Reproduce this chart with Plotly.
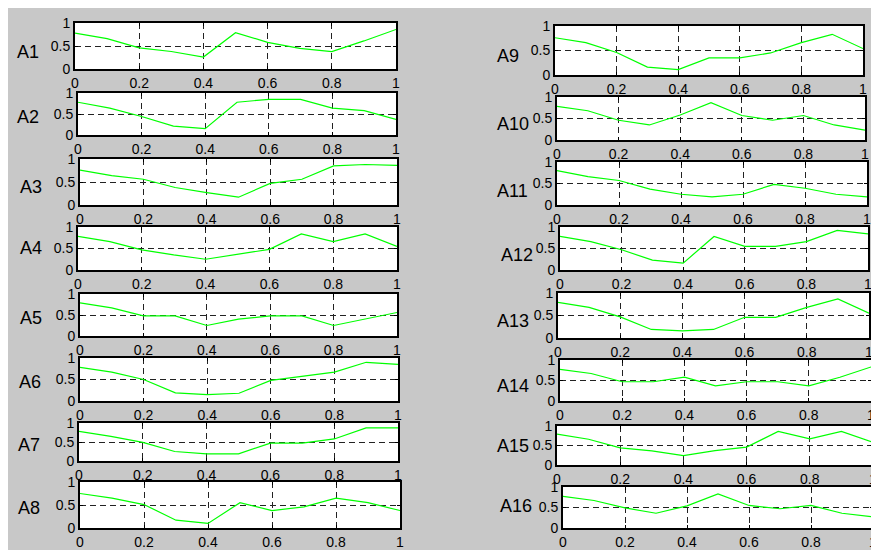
import plotly.graph_objects as go

# figure sits inside the page's 8px body margin
OFF = 8
W, H = 879 - OFF, 550 - OFF

x_vals = [0, 0.1, 0.2, 0.3, 0.4, 0.5, 0.6, 0.7, 0.8, 0.9, 1.0]

names = ["A1", "A2", "A3", "A4", "A5", "A6", "A7", "A8",
         "A9", "A10", "A11", "A12", "A13", "A14", "A15", "A16"]

A1 = [0.78, 0.66, 0.46, 0.38, 0.26, 0.79, 0.58, 0.45, 0.38, 0.61, 0.86]
A2 = [0.78, 0.64, 0.44, 0.21, 0.15, 0.78, 0.85, 0.85, 0.64, 0.58, 0.37]
A3 = [0.76, 0.64, 0.56, 0.38, 0.27, 0.17, 0.47, 0.56, 0.85, 0.88, 0.86]
A4 = [0.78, 0.66, 0.47, 0.35, 0.25, 0.37, 0.48, 0.84, 0.66, 0.84, 0.55]
A5 = [0.79, 0.67, 0.48, 0.48, 0.25, 0.40, 0.48, 0.48, 0.25, 0.40, 0.56]
A6 = [0.78, 0.67, 0.50, 0.19, 0.15, 0.18, 0.48, 0.58, 0.67, 0.90, 0.85]
A7 = [0.78, 0.65, 0.49, 0.25, 0.19, 0.19, 0.47, 0.47, 0.58, 0.87, 0.87]
A8 = [0.75, 0.65, 0.51, 0.17, 0.10, 0.55, 0.38, 0.46, 0.65, 0.55, 0.38]
A9 = [0.76, 0.66, 0.46, 0.16, 0.11, 0.35, 0.35, 0.45, 0.66, 0.83, 0.54]
A10 = [0.78, 0.68, 0.46, 0.35, 0.58, 0.87, 0.57, 0.46, 0.57, 0.35, 0.23]
A11 = [0.80, 0.66, 0.57, 0.37, 0.25, 0.19, 0.25, 0.48, 0.39, 0.25, 0.19]
A12 = [0.78, 0.66, 0.47, 0.23, 0.16, 0.78, 0.55, 0.55, 0.66, 0.92, 0.84]
A13 = [0.79, 0.68, 0.47, 0.19, 0.16, 0.19, 0.46, 0.46, 0.68, 0.87, 0.55]
A14 = [0.77, 0.67, 0.47, 0.47, 0.58, 0.37, 0.47, 0.47, 0.37, 0.58, 0.83]
A15 = [0.79, 0.66, 0.44, 0.36, 0.24, 0.37, 0.46, 0.86, 0.67, 0.86, 0.58]
A16 = [0.77, 0.67, 0.49, 0.36, 0.54, 0.83, 0.55, 0.47, 0.55, 0.36, 0.27]

series = [A1, A2, A3, A4, A5, A6, A7, A8, A9, A10, A11, A12, A13, A14, A15, A16]

x_tickvals = [0, 0.2, 0.4, 0.6, 0.8, 1]
x_ticktext = ["0", "0.2", "0.4", "0.6", "0.8", "1"]
y_tickvals = [0, 0.5, 1]
y_ticktext = ["0", "0.5", "1"]

# pixel boxes in the page (x0, x1, y0, y1) for each subplot
boxes = [
    (75, 396, 23, 69), (78, 396, 93, 135), (80, 397, 159, 205), (78, 397, 227, 270),
    (80, 397, 294, 336), (80, 398, 358, 401), (79, 398, 423, 461), (80, 400, 482, 528),
    (555, 863, 26, 75), (557, 865, 97, 140), (557, 867, 162, 205), (560, 868, 227, 270),
    (558, 869, 293, 338), (560, 871, 360, 401), (557, 873, 426, 465), (563, 873, 487, 528),
]
# label centre positions in the page (px)
label_pos = [
    (28, 52), (28, 117), (31, 187), (31, 248), (31, 318), (30, 382), (29, 445), (29, 508),
    (508, 56), (513, 124), (512, 191), (517, 255), (513, 321), (513, 386), (513, 446), (516, 506),
]

FONT = "Liberation Sans, Arial, sans-serif"


def fx(px):
    return (px - OFF) / W


def fy(py):
    return 1 - (py - OFF) / H


fig = go.Figure()
layout = dict(
    width=W, height=H,
    margin=dict(l=0, r=0, t=0, b=0, pad=0, autoexpand=False),
    paper_bgcolor="#c8c8c8",
    plot_bgcolor="white",
    showlegend=False,
    font=dict(family=FONT, size=14, color="black"),
    annotations=[],
)

for i, (name, ys) in enumerate(zip(names, series)):
    n = i + 1
    xa = "x" if n == 1 else f"x{n}"
    ya = "y" if n == 1 else f"y{n}"
    fig.add_trace(go.Scatter(x=x_vals, y=ys, mode="lines",
                             line=dict(color="#00ff00", width=1.2),
                             xaxis=xa, yaxis=ya, hoverinfo="skip"))
    x0, x1, y0, y1 = boxes[i]
    xkey = "xaxis" if n == 1 else f"xaxis{n}"
    ykey = "yaxis" if n == 1 else f"yaxis{n}"
    common = dict(
        range=[0, 1], automargin=False,
        showline=True, linecolor="black", linewidth=2, mirror="allticks",
        ticks="inside", ticklen=3, tickcolor="black",
        showgrid=True, gridcolor="#222222", griddash="6px,4px", gridwidth=1,
        zeroline=False, tickfont=dict(size=14, family=FONT, color="black"),
        fixedrange=True,
    )
    layout[xkey] = dict(domain=[fx(x0), fx(x1)], anchor=ya,
                        tickvals=x_tickvals, ticktext=x_ticktext, **common)
    layout[ykey] = dict(domain=[fy(y1), fy(y0)], anchor=xa,
                        tickvals=y_tickvals, ticktext=y_ticktext, **common)
    lx, ly = label_pos[i]
    layout["annotations"].append(dict(
        text=name, xref="paper", yref="paper", x=fx(lx), y=fy(ly),
        xanchor="center", yanchor="middle", showarrow=False,
        font=dict(size=18, family=FONT, color="black"),
    ))

fig.update_layout(**layout)
fig.write_html("out.html")
